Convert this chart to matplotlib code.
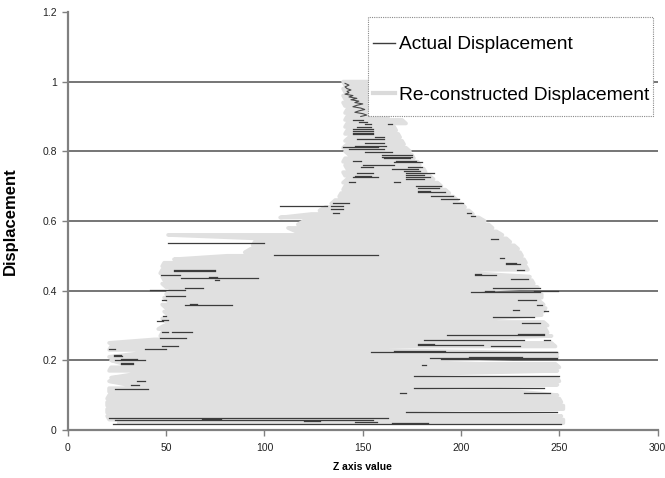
import numpy as np
import matplotlib
matplotlib.use("Agg")
import matplotlib.pyplot as plt
from matplotlib.patches import Rectangle

plt.rcParams['font.family'] = ['Liberation Sans', 'DejaVu Sans']

# Re-constructed displacement: one scan row per displacement level, left and right z extent
recon_y = [0.02, 0.03, 0.04, 0.05, 0.06, 0.07, 0.08, 0.09, 0.10, 0.11,
           0.12, 0.13, 0.14, 0.15, 0.16, 0.17, 0.18, 0.19, 0.20, 0.21,
           0.22, 0.23, 0.24, 0.25, 0.26, 0.27, 0.28, 0.29, 0.30, 0.31,
           0.32, 0.33, 0.34, 0.35, 0.36, 0.37, 0.38, 0.39, 0.40, 0.41,
           0.42, 0.43, 0.44, 0.45, 0.46, 0.47, 0.48, 0.49, 0.50, 0.51,
           0.52, 0.53, 0.54, 0.55, 0.56, 0.57, 0.58, 0.59, 0.60, 0.61,
           0.62, 0.63, 0.64, 0.65, 0.66, 0.67, 0.68, 0.69, 0.70, 0.71,
           0.72, 0.73, 0.74, 0.75, 0.76, 0.77, 0.78, 0.79, 0.80, 0.81,
           0.82, 0.83, 0.84, 0.85, 0.86, 0.87, 0.88, 0.89, 0.90, 0.91,
           0.92, 0.93, 0.94, 0.95, 0.96, 0.97, 0.98, 0.99, 1.00]
recon_left = [25, 21, 20, 20, 20, 20, 20, 20, 21, 21,
              21, 30, 21, 22, 33, 21, 22, 28, 22, 21,
              36, 21, 22, 21, 44, 47, 48, 46, 49, 50,
              48, 51, 49, 50, 48, 51, 49, 50, 52, 50,
              48, 49, 48, 47, 48, 48, 49, 54, 81, 90,
              93, 94, 95, 96, 51, 116, 112, 117, 120, 108,
              124, 128, 131, 134, 136, 138, 139, 140, 141, 140,
              142, 141, 140, 142, 141, 140, 141, 143, 141, 140,
              142, 141, 143, 141, 142, 141, 142, 141, 142, 141,
              142, 141, 140, 141, 140, 141, 140, 141, 140]
recon_right = [252, 252, 251, 170, 252, 252, 251, 250, 249, 230,
               176, 249, 250, 249, 175, 249, 250, 248, 188, 249,
               249, 155, 248, 246, 182, 246, 244, 243, 244, 242,
               216, 241, 242, 243, 242, 240, 241, 241, 205, 239,
               237, 236, 235, 207, 234, 233, 233, 232, 231, 230,
               229, 227, 225, 223, 221, 218, 216, 214, 212, 209,
               206, 204, 202, 200, 198, 196, 194, 192, 190, 188,
               186, 184, 182, 181, 179, 178, 176, 175, 174, 172,
               171, 170, 169, 168, 167, 166, 172, 170, 163, 160,
               159, 160, 158, 159, 160, 158, 159, 158, 160]

# Actual displacement: the parts that show outside the re-constructed rows
act_y = [0.016, 0.020, 0.022, 0.026, 0.028, 0.032, 0.035, 0.051, 0.107, 0.107,
         0.117, 0.120, 0.129, 0.142, 0.155, 0.186, 0.189, 0.192, 0.201, 0.204,
         0.203, 0.206, 0.209, 0.213, 0.216, 0.225, 0.228, 0.232, 0.232, 0.240,
         0.241, 0.244, 0.247, 0.257, 0.257, 0.265, 0.273, 0.276, 0.280, 0.280,
         0.308, 0.314, 0.317, 0.325, 0.326, 0.341, 0.345, 0.359, 0.362, 0.360,
         0.372, 0.374, 0.386, 0.395, 0.398, 0.400, 0.402, 0.408, 0.409, 0.432,
         0.434, 0.436, 0.439, 0.445, 0.448, 0.445, 0.455, 0.458, 0.460, 0.477,
         0.480, 0.494, 0.503, 0.536, 0.547, 0.614, 0.624, 0.624, 0.635, 0.643,
         0.643, 0.653, 0.653, 0.664, 0.672, 0.683, 0.686, 0.696, 0.700, 0.712,
         0.712, 0.720, 0.725, 0.725, 0.729, 0.732, 0.737, 0.737, 0.744, 0.749,
         0.756, 0.756, 0.760, 0.768, 0.772, 0.772, 0.781, 0.785, 0.789, 0.797,
         0.806, 0.811, 0.816, 0.823, 0.835, 0.840, 0.849, 0.852, 0.857, 0.864,
         0.871, 0.877, 0.878, 0.884, 0.890]
act_z0 = [23, 165, 146, 120, 24, 68, 21, 172, 169, 232,
          24, 176, 32, 35, 176, 180, 27, 27, 24, 27,
          190, 184, 204, 23.5, 23.5, 154, 166, 21, 39, 215,
          48, 178, 178, 181, 242, 47, 193, 229, 48, 53,
          231, 45.6, 48, 216, 48.5, 242, 226.5, 59.6, 62, 238.5,
          48, 229, 50, 205, 212, 237, 41.8, 59.6, 216, 75,
          225.5, 57.5, 71.8, 207, 207, 47.5, 54, 54, 228.5, 222.6,
          223, 220, 105, 51, 215, 205, 135, 203, 134, 108,
          134, 135, 196, 190, 184.5, 178, 178, 178, 177, 143,
          166, 172, 145, 172, 146, 172, 147, 172, 171, 165,
          149, 173, 150, 166, 145, 167, 161, 160, 160, 151,
          143, 140, 146, 151, 147, 156, 145, 145, 145, 145,
          147, 163, 151, 148, 145]
act_z1 = [251, 183, 157, 128, 155, 78, 163, 249, 172, 245,
          41, 242, 36, 39, 250, 182, 33, 33, 39, 35,
          249, 249, 231, 27.3, 27, 249, 192, 24, 50, 230,
          56, 211, 186, 232, 245, 60, 242, 242, 51, 63,
          240, 48.5, 51, 237, 50, 244, 229.5, 83.3, 65.5, 241,
          50, 238, 59.6, 240, 217, 249.5, 59.6, 68.6, 240, 77,
          234, 96.5, 76, 218, 210, 56.8, 75, 75, 232, 229.8,
          228, 222, 158, 100, 219, 207, 138, 205, 140, 132,
          140, 143, 201, 199, 196, 192, 184, 189, 190, 146,
          169, 181, 158, 184, 154, 181, 155, 186, 179, 178,
          155, 180, 166, 180, 149, 177, 174, 175, 175, 165,
          161, 158, 162, 161, 161, 161, 155, 155, 155, 155,
          154, 165, 154, 152, 150]

# wiggly actual trace near the top of the cone
act_top_z = [141, 143, 141, 142, 144, 142, 143, 141, 145, 143, 147, 144,
             148, 146, 150, 147, 145, 149, 151, 148, 146, 150, 152, 149]
act_top_y = [0.995, 0.990, 0.985, 0.980, 0.976, 0.972, 0.968, 0.964, 0.960,
             0.956, 0.952, 0.948, 0.944, 0.940, 0.936, 0.932, 0.928, 0.924,
             0.920, 0.916, 0.912, 0.908, 0.904, 0.900]

x_ticks = [0, 50, 100, 150, 200, 250, 300]
y_ticks = [0, 0.2, 0.4, 0.6, 0.8, 1.0, 1.2]
y_tick_labels = ['0', '0.2', '0.4', '0.6', '0.8', '1', '1.2']

fig = plt.figure(figsize=(6.65, 4.78), dpi=100)
ax = fig.add_axes([0.102, 0.1004, 0.887, 0.8746])

# boustrophedon path through the rows
zz, yy = [], []
for i, (y, l, r) in enumerate(zip(recon_y, recon_left, recon_right)):
    zz += [l, r] if i % 2 == 0 else [r, l]
    yy += [y, y]
ax.plot(zz, yy, color='#e0e0e0', lw=2.7, solid_capstyle='butt', zorder=2)

az, ayy = [], []
for y, a, b in zip(act_y, act_z0, act_z1):
    az += [a, b, np.nan]
    ayy += [y, y, np.nan]
ax.plot(az, ayy, color='#3c3c3c', lw=0.9, zorder=3)
ax.plot(act_top_z, act_top_y, color='#4a4a4a', lw=0.8, zorder=3)

ax.set_xlim(0, 300)
ax.set_ylim(0, 1.2)
ax.set_xticks(x_ticks)
ax.set_yticks(y_ticks)
ax.set_yticklabels(y_tick_labels)
ax.yaxis.grid(True, color='#505050', lw=1.1, zorder=0)
ax.set_axisbelow(True)
ax.yaxis.get_gridlines()[-1].set_visible(False)
ax.yaxis.get_gridlines()[0].set_visible(False)

for s in ['top', 'right']:
    ax.spines[s].set_visible(False)
for s in ['left', 'bottom']:
    ax.spines[s].set_color('#808080')
    ax.spines[s].set_linewidth(1.6)
ax.tick_params(direction='out', length=4, width=1, color='#808080',
               labelsize=7.5, labelcolor='#222222')
ax.tick_params(axis='x', pad=5)
ax.tick_params(axis='y', pad=4)

ax.set_xlabel('Z axis value', fontsize=7.5, fontweight='bold', labelpad=7)
ax.set_ylabel('Displacement', fontsize=12, fontweight='bold')
ax.yaxis.set_label_coords(-0.085, 0.5)

# legend box (dotted frame) and entries
box = Rectangle((0.5534, 0.7573), 0.4286, 0.2071, transform=fig.transFigure,
                facecolor='white', edgecolor='#8a8a8a', lw=0.8, ls=(0, (1, 1)),
                zorder=5, clip_on=False)
ax.add_patch(box)
h_act = plt.Line2D([], [], color='#3c3c3c', lw=1.0)
h_rec = plt.Line2D([], [], color='#dadada', lw=3.0)
leg = ax.legend([h_act, h_rec], ['Actual Displacement', 'Re-constructed Displacement'],
                loc='upper left', bbox_to_anchor=(0.561, 0.925),
                bbox_transform=fig.transFigure, frameon=False, fontsize=13.8,
                handlelength=1.15, handletextpad=0.2, labelspacing=1.72,
                borderpad=0, borderaxespad=0)
leg.set_zorder(6)

fig.savefig('out.png', dpi=100)
